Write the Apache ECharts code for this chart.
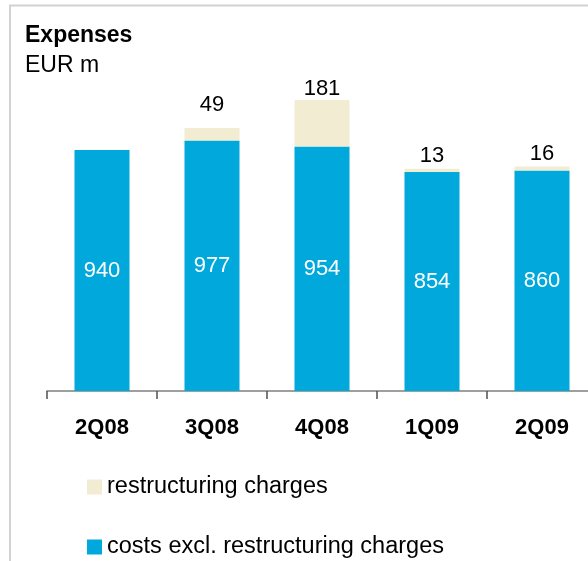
<!DOCTYPE html>
<html>
<head>
<meta charset="utf-8">
<script src="https://cdn.jsdelivr.net/npm/echarts@6/dist/echarts.min.js"></script>
<style>html,body{margin:0;padding:0;background:#fff;overflow:hidden;width:588px;height:561px;}#c{width:598px;height:561px;}</style>
</head>
<body>
<div id="c"></div>
<script>
var categories = ['2Q08', '3Q08', '4Q08', '1Q09', '2Q09'];
var costsExcl = [940, 977, 954, 854, 860];
var restructuring = [0, 49, 181, 13, 16];
var restructuringLabels = ['', '49', '181', '13', '16'];
var seriesNames = ['restructuring charges', 'costs excl. restructuring charges'];

var FONT = 'Liberation Sans, Arial, sans-serif';
var chart = echarts.init(document.getElementById('c'), null, {renderer: 'canvas'});
var topDist = [1, 12, 0, 2, 2];
chart.setOption({
  animation: false,
  textStyle: {fontFamily: FONT},
  title: [
    {text: 'Expenses', left: 25, top: 24, padding: 0, textStyle: {fontSize: 23, fontWeight: 'bold', color: '#000', fontFamily: FONT}},
    {text: 'EUR m', left: 25, top: 54, padding: 0, textStyle: {fontSize: 23, fontWeight: 'normal', color: '#000', fontFamily: FONT}}
  ],
  legend: {
    orient: 'vertical', left: 87, top: 475, padding: 0,
    itemWidth: 15, itemHeight: 15, itemGap: 36, icon: 'rect',
    data: [seriesNames[0], seriesNames[1]],
    textStyle: {fontSize: 23.5, color: '#000', fontFamily: FONT},
    selectedMode: false
  },
  grid: {left: 47, width: 550, top: 83.4, bottom: 170, containLabel: false},
  xAxis: {
    type: 'category', data: categories,
    axisLine: {lineStyle: {color: '#808080', width: 1.5}},
    axisTick: {show: true, length: 8, lineStyle: {color: '#505050', width: 1.5}},
    axisLabel: {fontSize: 22, fontWeight: 'bold', color: '#000', margin: 26, fontFamily: FONT}
  },
  yAxis: {type: 'value', min: 0, max: 1200, show: false, splitLine: {show: false}},
  series: [
    {
      name: seriesNames[1], type: 'bar', stack: 'a', barWidth: 55,
      itemStyle: {color: '#00A8DB'},
      label: {show: true, position: 'inside', color: '#fff', fontSize: 22, fontFamily: FONT},
      data: costsExcl
    },
    {
      name: seriesNames[0], type: 'bar', stack: 'a', barWidth: 55,
      itemStyle: {color: '#F2EDD2'},
      data: restructuring.map(function (v, i) {
        return {value: v, label: {show: v > 0, position: 'top', distance: topDist[i], color: '#000', fontSize: 22, fontFamily: FONT,
          formatter: function () { return restructuringLabels[i]; }}};
      })
    }
  ],
  graphic: [
    {type: 'line', shape: {x1: 10, y1: 5, x2: 10, y2: 561}, style: {stroke: '#d2d2d2', lineWidth: 2}, silent: true},
    {type: 'line', shape: {x1: 9, y1: 5.5, x2: 598, y2: 5.5}, style: {stroke: '#d2d2d2', lineWidth: 2}, silent: true}
  ]
});
</script>
</body>
</html>
